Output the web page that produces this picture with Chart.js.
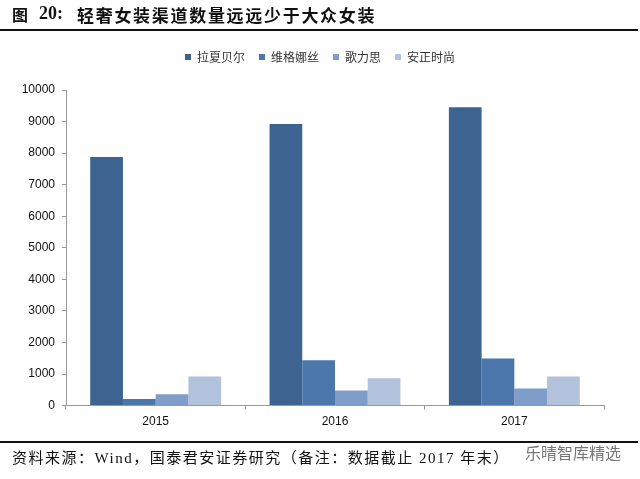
<!DOCTYPE html>
<html><head><meta charset="utf-8">
<style>
html,body{margin:0;padding:0;background:#fff;width:640px;height:479px;overflow:hidden}
#wrap{position:absolute;left:0;top:0;width:640px;height:479px}
.t{position:absolute;white-space:nowrap;color:#111}
.r{position:absolute;left:0;width:638px;background:#111}
</style>
<script src="https://cdn.jsdelivr.net/npm/chart.js@4"></script>
</head><body>
<div id="wrap"><canvas id="c" width="640" height="479"></canvas></div>
<div class="t" id="t1" style="left:12px;top:2px;font:bold 16px 'Noto Sans CJK SC'"></div>
<div class="t" id="t2" style="left:39px;top:3px;font:bold 18px 'Liberation Serif'"></div>
<div class="t" id="t3" style="left:77px;top:2px;font:bold 17px 'Noto Sans CJK SC';letter-spacing:1.7px"></div>
<div class="r" style="top:29px;height:2px"></div>
<div class="r" style="top:441px;height:2px"></div>
<div class="t" id="src" style="left:12px;top:446px;font:15px 'Liberation Serif','Noto Sans CJK SC';letter-spacing:1.5px"></div>
<div class="t" id="wm" style="left:525px;top:440px;font:16px 'Noto Sans CJK SC';color:#777"></div>
<script>
const titleLabel = '图';
const titleNumber = '20:';
const titleText = '轻奢女装渠道数量远远少于大众女装';
const sourceText = '资料来源\uFF1AWind\uFF0C国泰君安证券研究\uFF08备注\uFF1A数据截止 2017 年末\uFF09';
const watermark = '乐晴智库精选';
const categories = ['2015','2016','2017'];
const seriesNames = ['拉夏贝尔','维格娜丝','歌力思','安正时尚'];
const lachapelle = [7880,8920,9450];
const vgrass = [210,1440,1490];
const ellassay = [360,480,540];
const anzheng = [920,870,920];
const colors = ['#3d6491','#4b77ad','#7e9dc9','#b3c2dc'];
const yTicks = [0,1000,2000,3000,4000,5000,6000,7000,8000,9000,10000];
document.getElementById('t1').textContent = titleLabel;
document.getElementById('t2').textContent = titleNumber;
document.getElementById('t3').textContent = titleText;
document.getElementById('src').textContent = sourceText;
document.getElementById('wm').textContent = watermark;
const values = [lachapelle,vgrass,ellassay,anzheng];
const moveLegend = {id:'moveLegend',afterLayout(chart){
  const l=chart.legend; l.left+=18; l.right+=18; l.top-=17; l.bottom-=17;
}};
new Chart(document.getElementById('c'),{
  type:'bar',
  plugins:[moveLegend],
  data:{labels:categories,datasets:seriesNames.map((n,i)=>({label:n,data:values[i],backgroundColor:colors[i],borderWidth:0,categoryPercentage:0.73,barPercentage:1}))},
  options:{
    responsive:false,animation:false,
    layout:{padding:{left:0,right:36,top:54,bottom:45}},
    plugins:{
      tooltip:{enabled:false},
      title:{display:false},
      legend:{position:'top',align:'center',
        labels:{boxWidth:6,boxHeight:6,padding:14,color:'#333',font:{family:"'Noto Sans CJK SC'",size:12}}}
    },
    scales:{
      x:{grid:{display:true,offset:true,drawOnChartArea:false,drawTicks:true,tickLength:4,tickColor:'#999'},border:{color:'#999',width:1},
        ticks:{color:'#111',font:{family:"'Liberation Sans'",size:12},padding:5,maxRotation:0}},
      y:{min:0,max:10000,afterFit(s){s.width=66;},afterBuildTicks(s){s.ticks=yTicks.map(v=>({value:v}));},
        grid:{display:true,drawOnChartArea:false,tickLength:4,tickColor:'#999'},border:{color:'#999',width:1},
        ticks:{color:'#111',font:{family:"'Liberation Sans'",size:12},padding:7,callback:v=>String(v)}}
    }
  }
});
</script>
</body></html>
